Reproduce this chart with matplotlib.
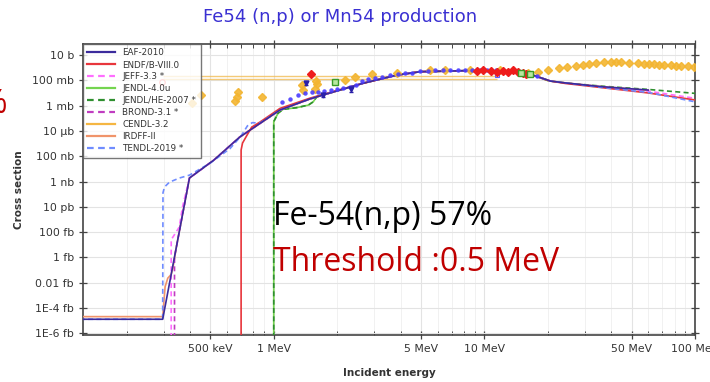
import matplotlib
matplotlib.use("Agg")
import matplotlib.pyplot as plt
from matplotlib.ticker import FixedLocator, NullLocator, LogLocator, NullFormatter

# energies in MeV, cross sections in barn
EAF_E = [0.1, 0.297, 0.398, 0.52, 0.69, 0.86, 1.07, 1.48, 1.85, 2.65, 3.85, 4.96, 7.94, 10.0,
         13.3, 14.8, 17.5, 20.6, 24.3, 35.7, 60.0]
EAF_XS = [1.3e-20, 1.3e-20, 1.9e-9, 5e-8, 3.3e-6, 3.9e-5, 4.5e-4, 3.3e-3, 1.0e-2, 0.058, 0.26, 0.48, 0.57, 0.56,
          0.46, 0.41, 0.22, 0.087, 0.062, 0.032, 0.017]

ENDF_E = [0.70, 0.70, 0.711, 0.743, 0.786, 0.86, 1.07, 1.48, 1.85, 2.65, 3.85, 4.96, 7.94, 10.0,
          13.3, 14.8, 17.5, 20.6, 24.3, 35.7, 60.0, 100.0]
ENDF_XS = [1e-24, 3.1e-7, 1.1e-6, 4e-6, 2e-5, 5e-5, 6e-4, 3.8e-3, 1.1e-2, 0.058, 0.26, 0.48, 0.57, 0.56,
           0.46, 0.41, 0.22, 0.087, 0.056, 0.027, 0.010, 0.0028]

JEFF_E = [0.326, 0.326, 0.356, 0.369, 0.398, 0.52, 0.69, 0.86, 1.07, 1.48, 1.85, 2.65, 3.85, 4.96, 7.94,
          10.0, 13.3, 14.8, 17.5, 20.6, 24.3, 35.7, 60.0, 100.0]
JEFF_XS = [1e-24, 2.5e-14, 2.5e-13, 1e-11, 1.9e-9, 5e-8, 3.3e-6, 3.9e-5, 4.5e-4, 3.3e-3, 1.0e-2, 0.058, 0.26,
           0.48, 0.57, 0.56, 0.46, 0.41, 0.22, 0.087, 0.062, 0.030, 0.014, 0.0038]

JENDL4_E = [1.0, 1.0, 1.048, 1.107, 1.28, 1.46, 1.54, 1.6, 1.69, 1.85, 2.65, 3.85, 4.96, 7.94, 10.0,
            13.3, 14.8, 17.5, 20.0]
JENDL4_XS = [1e-24, 5.4e-5, 2.5e-4, 5.1e-4, 6.8e-4, 1.1e-3, 2e-3, 5e-3, 7.5e-3, 1.0e-2, 0.058, 0.26, 0.48,
             0.57, 0.56, 0.46, 0.41, 0.22, 0.095]

JENDLHE_E = [1.0, 1.0, 1.048, 1.107, 1.28, 1.46, 1.54, 1.6, 1.69, 1.85, 2.65, 3.85, 4.96, 7.94, 10.0,
             13.3, 14.8, 17.5, 20.6, 24.3, 35.7, 60.0, 100.0]
JENDLHE_XS = [1e-24, 5.4e-5, 2.5e-4, 5.1e-4, 6.8e-4, 1.1e-3, 2e-3, 5e-3, 7.5e-3, 1.0e-2, 0.058, 0.26, 0.48,
              0.57, 0.56, 0.46, 0.41, 0.22, 0.087, 0.062, 0.035, 0.019, 0.0093]

BROND_E = [0.338, 0.338, 0.398, 0.52, 0.69, 0.86, 1.07, 1.48, 1.85, 2.65, 3.85, 4.96, 7.94, 10.0,
           13.3, 14.8, 17.5, 20.0]
BROND_XS = [1e-24, 1.1e-15, 1.9e-9, 5e-8, 3.3e-6, 3.9e-5, 4.5e-4, 3.3e-3, 1.0e-2, 0.058, 0.26, 0.48, 0.57,
            0.56, 0.46, 0.41, 0.22, 0.095]

CENDL_E = [0.69, 0.86, 1.07, 1.48, 1.85, 2.65, 3.85, 4.96, 7.94, 10.0, 13.3, 14.8, 17.5, 20.0]
CENDL_XS = [3.3e-6, 3.9e-5, 4.5e-4, 3.3e-3, 1.0e-2, 0.058, 0.26, 0.48, 0.57, 0.56, 0.46, 0.41, 0.22, 0.095]

IRDFF_E = [0.1, 0.297, 0.305, 0.314, 0.326, 0.332, 0.345, 0.398, 0.52, 0.69, 0.86, 1.07, 1.48, 1.85, 2.65,
           3.85, 4.96, 7.94, 10.0, 13.3, 14.8, 17.5, 20.6, 24.3, 35.7, 60.0]
IRDFF_XS = [2.1e-20, 2.1e-20, 4.8e-18, 2.3e-17, 4.6e-17, 1.4e-16, 6.8e-15, 1.9e-9, 5e-8, 3.3e-6, 3.9e-5,
            4.5e-4, 3.3e-3, 1.0e-2, 0.058, 0.26, 0.48, 0.57, 0.56, 0.46, 0.41, 0.22, 0.087, 0.062, 0.032, 0.016]

TENDL_E = [0.1, 0.297, 0.298, 0.303, 0.32, 0.357, 0.398, 0.5, 0.62, 0.70, 0.75, 0.79, 0.86, 1.07, 1.48,
           1.85, 2.65, 3.85, 4.96, 7.94, 10.0, 13.3, 14.8, 17.5, 20.6, 24.3, 35.7, 60.0, 100.0]
TENDL_XS = [1.3e-20, 1.3e-20, 1.3e-10, 3.7e-10, 9e-10, 1.9e-9, 3.2e-9, 2.9e-8, 4e-7, 4e-6, 2.5e-5, 4.5e-5,
            4.2e-5, 4.5e-4, 3.3e-3, 1.0e-2, 0.058, 0.26, 0.48, 0.57, 0.56, 0.46, 0.41, 0.22, 0.087, 0.062,
            0.028, 0.011, 0.002]

# measured points
GOLD_E = [0.411, 0.454, 0.652, 0.667, 0.674, 0.877, 1.36, 1.37, 1.58, 1.60, 1.57,
          2.18, 2.43, 2.93, 3.85, 5.53, 6.52, 8.58, 11.9,
          16.2, 17.9, 20.0, 22.5, 24.8, 27.1, 29.3, 31.3, 33.8, 36.9, 39.8, 42.0, 44.4, 48.5,
          53.5, 57.2, 60.4, 63.8, 67.4, 71.2, 76.9, 81.2, 85.8, 92.6, 98.9]
GOLD_XS = [1.6e-3, 6.9e-3, 2.4e-3, 4.4e-3, 0.012, 5e-3, 0.043, 0.017, 0.093, 0.051, 0.020,
           0.105, 0.18, 0.32, 0.38, 0.60, 0.65, 0.60, 0.60,
           0.38, 0.46, 0.65, 0.93, 1.12, 1.35, 1.62, 1.95, 2.34, 2.8, 2.8, 3.06, 2.8, 2.34,
           2.34, 2.13, 1.95, 1.95, 1.77, 1.62, 1.62, 1.48, 1.35, 1.35, 1.23]

BLUE_E = [1.09, 1.19, 1.30, 1.41, 1.52, 1.62, 1.73, 1.87, 2.0, 2.13, 2.30, 2.46,
          2.62, 2.80, 3.03, 3.27, 3.57, 3.89, 4.21, 4.54, 4.96, 5.41, 5.84, 6.38, 6.89,
          7.52, 8.12, 8.77, 9.57, 10.3, 11.3, 12.3, 13.3, 14.5, 15.5, 16.6, 17.7]
BLUE_XS = [1.9e-3, 3.6e-3, 6.9e-3, 0.010, 0.011, 0.012, 0.014, 0.017, 0.020, 0.025, 0.032, 0.043,
           0.088, 0.127, 0.166, 0.20, 0.26, 0.31, 0.38, 0.41, 0.50, 0.54, 0.60, 0.65, 0.65,
           0.71, 0.71, 0.71, 0.71, 0.65, 0.65, 0.60, 0.54, 0.45, 0.38, 0.26, 0.22]

NAVY_E = [1.42, 1.71, 2.33]
NAVY_XS = [0.061, 6.9e-3, 0.020]

RED_E = [1.50, 9.27, 9.89, 10.7, 11.5, 12.3, 13.0, 13.7, 14.5, 15.2, 15.8]
RED_XS = [0.30, 0.54, 0.60, 0.54, 0.45, 0.54, 0.45, 0.60, 0.45, 0.35, 0.31]

GREEN_E = [1.95, 15.0, 16.5]
GREEN_XS = [0.074, 0.40, 0.30]

# integral measurements spread over a wide energy band
BAND_LO = [0.297, 0.297]
BAND_HI = [11.5, 11.5]
BAND_XS = [0.22, 0.12]

YTICKS = [1e1, 1e-1, 1e-3, 1e-5, 1e-7, 1e-9, 1e-11, 1e-13, 1e-15, 1e-17, 1e-19, 1e-21]
YLABELS = ["10 b", "100 mb", "1 mb", "10 \u00b5b", "100 nb", "1 nb", "10 pb", "100 fb",
           "1 fb", "0.01 fb", "1E-4 fb", "1E-6 fb"]
XTICKS = [0.5, 1, 5, 10, 50, 100]
XLABELS = ["500 keV", "1 MeV", "5 MeV", "10 MeV", "50 MeV", "100 MeV"]

W, H = 710, 382


def main():
    fig = plt.figure(figsize=(W / 100, H / 100), dpi=100)
    fig.patch.set_facecolor("white")
    ax = fig.add_axes([83 / W, 1 - 335 / H, (695 - 83) / W, (335 - 44) / H])
    ax.set_xscale("log")
    ax.set_yscale("log")
    ax.set_xlim(0.1243, 100)
    ax.set_ylim(10 ** -21.13, 10 ** 1.87)

    dash = (0, (3, 2))
    lw = 1.2
    # band lines
    ax.hlines(BAND_XS, BAND_LO, BAND_HI, colors="#f2bd55", lw=1.0, alpha=0.8, zorder=2)
    ax.plot(BAND_HI[0], 0.26, "s", ms=3.5, mfc="none", mec="#6060ff", mew=0.8, zorder=4)

    ax.plot(CENDL_E, CENDL_XS, color="#f5b642", lw=lw, zorder=2.5)
    ax.plot(JENDL4_E, JENDL4_XS, color="#74d44f", lw=lw, zorder=3)
    ax.plot(JENDLHE_E, JENDLHE_XS, color="#2f8f2f", lw=lw, ls=dash, zorder=3)
    ax.plot(IRDFF_E, IRDFF_XS, color="#f0946a", lw=lw, zorder=3)
    ax.plot(BROND_E, BROND_XS, color="#c03cc0", lw=lw, ls=dash, zorder=3)
    ax.plot(JEFF_E, JEFF_XS, color="#ff6eff", lw=lw, ls=dash, zorder=3)
    ax.plot(ENDF_E, ENDF_XS, color="#e8363c", lw=lw, zorder=3.2)
    ax.plot(EAF_E, EAF_XS, color="#3b2b9c", lw=lw, zorder=3.4)
    ax.plot(TENDL_E, TENDL_XS, color="#6f8cff", lw=lw, ls=dash, zorder=3.3)

    # experimental data
    ax.plot(GOLD_E, GOLD_XS, "D", ms=4.2, color="#f3b531", mec="#f3b531", alpha=0.9, zorder=4)
    ax.plot(BLUE_E, BLUE_XS, "o", ms=3.2, color="#4a3cff", mec="none", alpha=0.9, zorder=4.2)
    ax.errorbar(NAVY_E, NAVY_XS, yerr=[[x * 0.35 for x in NAVY_XS], [x * 0.5 for x in NAVY_XS]],
                fmt="v", ms=3.5, color="#2a20a8", ecolor="#2a20a8", elinewidth=0.9, capsize=1.5, zorder=4.3)
    ax.plot(RED_E, RED_XS, "D", ms=4.2, color="#ee1c1c", mec="#ee1c1c", zorder=4.4)
    ax.plot(0.296, 0.074, "o", ms=4, mfc="none", mec="#ff5050", mew=0.9, zorder=2)
    ax.plot(GREEN_E, GREEN_XS, "s", ms=4.2, mfc="#b8e8a0", mec="#3a9a28", mew=1.0, zorder=4.5)

    ax.yaxis.set_major_locator(FixedLocator(YTICKS))
    ax.yaxis.set_minor_locator(NullLocator())
    ax.set_yticklabels(YLABELS)
    ax.xaxis.set_major_locator(FixedLocator(XTICKS))
    ax.xaxis.set_minor_locator(LogLocator(base=10, subs=[2, 3, 4, 5, 6, 7, 8, 9], numticks=20))
    ax.xaxis.set_minor_formatter(NullFormatter())
    ax.set_xticklabels(XLABELS)

    ax.grid(which="major", color="#e3e3e3", lw=0.8, zorder=0)
    ax.grid(which="minor", axis="x", color="#efefef", lw=0.6, zorder=0)
    ax.set_axisbelow(True)

    ax.tick_params(which="major", direction="inout", length=6, width=0.9, colors="#444444",
                   labelsize=7.8, top=True, right=True, labelcolor="#333333")
    ax.tick_params(which="minor", direction="in", length=3, width=0.7, colors="#444444",
                   top=True, right=True)
    for s in ax.spines.values():
        s.set_color("#444444")
        s.set_linewidth(1.2)

    ax.set_ylabel("Cross section", fontsize=7.5, fontweight="bold", color="#333333", labelpad=6)
    ax.set_xlabel("Incident energy", fontsize=7.5, fontweight="bold", color="#333333", labelpad=10)
    fig.text(340 / W, 1 - 17 / H, "Fe54 (n,p) or Mn54 production", ha="center", va="center",
             fontsize=13, color="#3a30d2")

    labels = ["EAF-2010", "ENDF/B-VIII.0", "JEFF-3.3 *", "JENDL-4.0u", "JENDL/HE-2007 *",
              "BROND-3.1 *", "CENDL-3.2", "IRDFF-II", "TENDL-2019 *"]
    colors = ["#3b2b9c", "#e8363c", "#ff6eff", "#74d44f", "#2f8f2f", "#c03cc0", "#f5b642",
              "#f0946a", "#6f8cff"]
    styles = ["-", "-", dash, "-", dash, dash, "-", "-", dash]
    handles = [plt.Line2D([], [], color=c, ls=s, lw=1.6) for c, s in zip(colors, styles)]
    leg = ax.legend(handles, labels, loc="upper left", bbox_to_anchor=(0, 1), borderaxespad=0,
                    fontsize=6.3, handlelength=3.1, handletextpad=0.9, labelspacing=0.34,
                    fancybox=False, framealpha=0.8, edgecolor="#555555", borderpad=0.5)
    leg.get_frame().set_linewidth(1.0)
    leg.set_zorder(6)
    for t in leg.get_texts():
        t.set_color("#333333")

    # slide annotations
    fig.text(273 / W, 1 - 225 / H, "Fe-54(n,p) 57%", fontsize=23, family="Open Sans",
             color="black", va="baseline", ha="left")
    fig.text(273 / W, 1 - 271 / H, "Threshold :0.5 MeV", fontsize=23, family="Open Sans",
             color="#c00000", va="baseline", ha="left")
    fig.text(7 / W, 1 - 113 / H, "%", fontsize=23, family="Open Sans", color="#c00000",
             va="baseline", ha="right")

    fig.savefig("out.png", dpi=100)
    plt.close(fig)


if __name__ == "__main__":
    main()
